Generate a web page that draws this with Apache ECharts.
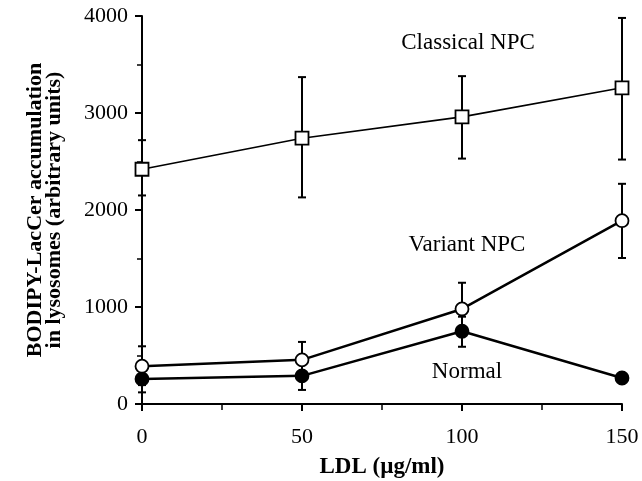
<!DOCTYPE html>
<html>
<head>
<meta charset="utf-8">
<script src="https://cdn.jsdelivr.net/npm/echarts@6/dist/echarts.min.js"></script>
<style>
  html, body { margin: 0; padding: 0; background: #fff; }
  #chart { width: 642px; height: 481px; }
</style>
</head>
<body>
<div id="chart"></div>
<script>
// LDL concentrations (µg/ml)
const ldl = [0, 50, 100, 150];

// Classical NPC (open squares)
const classical = [2420, 2740, 2960, 3260];
const classicalLow = [2150, 2130, 2530, 2520];
const classicalHigh = [2720, 3370, 3380, 3980];

// Variant NPC (open circles)
const variant = [390, 455, 980, 1890];
const variantLow = [195, 270, 710, 1505];
const variantHigh = [595, 640, 1250, 2270];

// Normal (filled circles)
const normal = [258, 290, 750, 268];
const normalLow = [120, 145, 590, 240];
const normalHigh = [400, 435, 900, 300];

const font = '"Liberation Serif", "DejaVu Serif", serif';

function pairs(ys) {
  return ldl.map((x, i) => [x, ys[i]]);
}
function errData(lo, hi) {
  return ldl.map((x, i) => [x, lo[i], hi[i]]);
}

function errorBar(name, lo, hi) {
  return {
    name: name + ' err',
    type: 'custom',
    data: errData(lo, hi),
    z: 1,
    renderItem: function (params, api) {
      const p1 = api.coord([api.value(0), api.value(1)]);
      const p2 = api.coord([api.value(0), api.value(2)]);
      const w = 4;
      const st = { stroke: '#000', lineWidth: 2 };
      return {
        type: 'group',
        children: [
          { type: 'line', shape: { x1: p1[0], y1: p1[1], x2: p2[0], y2: p2[1] }, style: st },
          { type: 'line', shape: { x1: p1[0] - w, y1: p1[1], x2: p1[0] + w, y2: p1[1] }, style: st },
          { type: 'line', shape: { x1: p2[0] - w, y1: p2[1], x2: p2[0] + w, y2: p2[1] }, style: st }
        ]
      };
    }
  };
}

function lineSeries(name, ys, symbol, fill, width) {
  return {
    name: name,
    type: 'line',
    data: pairs(ys),
    symbol: symbol,
    symbolSize: 13,
    z: 3,
    lineStyle: { color: '#000', width: width },
    itemStyle: { color: fill, borderColor: '#000', borderWidth: 1.8 }
  };
}

function note(text, x, y) {
  return {
    type: 'text', x: x, y: y,
    style: { text: text, fontFamily: font, fontSize: 23, fill: '#000', align: 'center', verticalAlign: 'middle' }
  };
}

const chart = echarts.init(document.getElementById('chart'));

chart.setOption({
  animation: false,
  backgroundColor: '#fff',
  grid: { left: 142, right: 20, top: 16, bottom: 77, outerBoundsMode: 'none' },
  xAxis: {
    type: 'value',
    min: 0,
    max: 150,
    interval: 50,
    name: 'LDL (µg/ml)',
    nameLocation: 'middle',
    nameGap: 52,
    nameTextStyle: { fontFamily: font, fontWeight: 'bold', fontSize: 23, color: '#000' },
    axisLine: { lineStyle: { color: '#000', width: 2 } },
    axisTick: { length: 7, lineStyle: { color: '#000', width: 2 } },
    minorTick: { show: true, splitNumber: 2, length: 6, lineStyle: { color: '#000', width: 1.5 } },
    axisLabel: { fontFamily: font, fontSize: 22, color: '#000', margin: 22 },
    splitLine: { show: false }
  },
  yAxis: {
    type: 'value',
    min: 0,
    max: 4000,
    interval: 1000,
    name: 'BODIPY-LacCer accumulation\nin lysosomes (arbitrary units)',
    nameLocation: 'middle',
    nameRotate: 90,
    nameGap: 78,
    nameTextStyle: { fontFamily: font, fontWeight: 'bold', fontSize: 22, color: '#000', lineHeight: 19 },
    axisLine: { lineStyle: { color: '#000', width: 2 } },
    axisTick: { length: 7, lineStyle: { color: '#000', width: 2 } },
    minorTick: { show: true, splitNumber: 2, length: 5, lineStyle: { color: '#000', width: 1.5 } },
    axisLabel: { fontFamily: font, fontSize: 22, color: '#000', margin: 14, formatter: function (v) { return String(v); } },
    splitLine: { show: false }
  },
  graphic: [
    note('Classical NPC', 468, 43),
    note('Variant NPC', 467, 245),
    note('Normal', 467, 372)
  ],
  series: [
    errorBar('Classical NPC', classicalLow, classicalHigh),
    errorBar('Variant NPC', variantLow, variantHigh),
    errorBar('Normal', normalLow, normalHigh),
    lineSeries('Classical NPC', classical, 'rect', '#fff', 1.6),
    lineSeries('Normal', normal, 'circle', '#000', 2.5),
    lineSeries('Variant NPC', variant, 'circle', '#fff', 2.5)
  ]
});
</script>
</body>
</html>
